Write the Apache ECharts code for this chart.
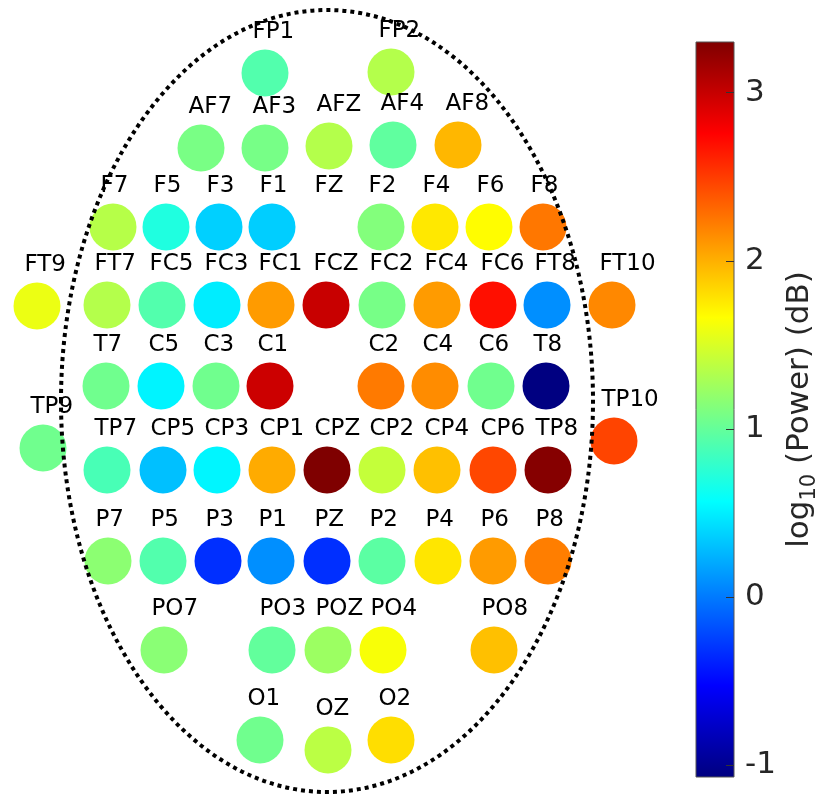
<!DOCTYPE html>
<html><head><meta charset="utf-8">
<script src="https://cdn.jsdelivr.net/npm/echarts@6/dist/echarts.min.js"></script>
<style>html,body{margin:0;padding:0;background:#fff}#c{width:825px;height:794px}</style>
</head><body><div id="c"></div>
<script>
// Electrode names, head-plane positions (x right, y up) and log10 power values
const names = ['FP1','FP2','AF7','AF3','AFZ','AF4','AF8','F7','F5','F3','F1','FZ','F2','F4','F6','F8',
  'FT9','FT7','FC5','FC3','FC1','FCZ','FC2','FC4','FC6','FT8','FT10',
  'T7','C5','C3','C1','C2','C4','C6','T8','TP9','TP10',
  'TP7','CP5','CP3','CP1','CPZ','CP2','CP4','CP6','TP8',
  'P7','P5','P3','P1','PZ','P2','P4','P6','P8',
  'PO7','PO3','POZ','PO4','PO8','O1','OZ','O2'];
const posX = [-62,64,-126,-62,2,66,131,-214,-161,-108,-55,0,54,108,162,216,
  -290,-220,-165,-110,-56,-1,55,110,166,220,285,
  -221,-166,-111,-57,54,108,164,219,-284,287,
  -220,-164,-110,-55,0,55,110,166,221,
  -219,-164,-109,-56,0,55,111,166,221,
  -163,-55,1,56,167,-67,1,64];
const posY = [328,329,253,253,255,256,256,174,174,174,174,174,174,174,174,174,
  95,96,96,96,96,96,96,96,96,96,96,
  15,15,15,15,15,15,15,15,-47,-40,
  -69,-69,-69,-69,-69,-69,-69,-69,-69,
  -160,-160,-160,-160,-160,-160,-160,-160,-160,
  -249,-249,-249,-249,-249,-339,-349,-339];
const power = [0.92,1.34,1.09,1.08,1.34,0.98,1.97,1.35,0.70,0.37,0.36,null,1.13,1.76,1.67,2.24,
  1.58,1.34,0.92,0.49,2.09,2.99,1.08,2.09,2.69,0.09,2.17,
  1.05,0.52,1.05,2.97,2.23,2.15,1.05,-1.06,1.05,2.46,
  0.88,0.30,0.53,2.02,3.30,1.41,1.93,2.45,3.27,
  1.17,0.92,-0.32,0.09,-0.32,0.96,1.77,2.09,2.21,
  1.16,0.99,1.24,1.63,1.93,1.05,1.37,1.80];
// Colour scale
const cbMin = -1.07, cbMax = 3.30;
const cbTicks = [-1, 0, 1, 2, 3];
const jet = ['#00007F','#0000FF','#007FFF','#00FFFF','#7FFF7F','#FFFF00','#FF7F00','#FF0000','#7F0000'];
// Head outline (centre and radii in the same units as the positions)
const headShape = [[0, 0, 266, 391]];

const dots = [], labels = [];
names.forEach(function(n, i){
  labels.push([posX[i], posY[i], n]);
  if (power[i] !== null) dots.push([posX[i], posY[i], power[i], n]);
});
const stops = jet.map(function(c, i){ return {offset: i/(jet.length-1), color: c}; });

const chart = echarts.init(document.getElementById('c'), null, {renderer:'canvas'});
chart.setOption({
  animation: false,
  backgroundColor: '#fff',
  textStyle: {fontFamily: 'DejaVu Sans'},
  grid: [
    {left: 0, top: 0, width: 825, height: 794},
    {left: 696, top: 42, width: 38, height: 735}
  ],
  xAxis: [
    {gridIndex: 0, type: 'value', min: -327, max: 498, show: false},
    {gridIndex: 1, type: 'value', min: 0, max: 1, show: false}
  ],
  yAxis: [
    {gridIndex: 0, type: 'value', min: -393, max: 401, show: false},
    {gridIndex: 1, type: 'value', min: cbMin, max: cbMax, position: 'right',
     splitLine: {show: false}, axisLine: {show: false},
     axisTick: {show: false},
     axisLabel: {show: true, customValues: cbTicks, fontSize: 31, color: '#262626', margin: 11, fontFamily: 'DejaVu Sans'},
     name: '{a|log}{s|10}{a| (Power) (dB)}',
     nameLocation: 'middle', nameRotate: 90, nameGap: 50,
     nameTextStyle: {
       color: '#262626', fontFamily: 'DejaVu Sans',
       rich: {
         a: {fontSize: 31, color: '#262626', verticalAlign: 'top', lineHeight: 32, fontFamily: 'DejaVu Sans'},
         s: {fontSize: 21, color: '#262626', verticalAlign: 'top', lineHeight: 21, padding: [15,0,0,0], fontFamily: 'DejaVu Sans'}
       }
     }
    }
  ],
  visualMap: {
    type: 'continuous', show: false, min: cbMin, max: cbMax, dimension: 2, seriesIndex: 0,
    inRange: {color: jet}
  },
  series: [
    {
      type: 'scatter', xAxisIndex: 0, yAxisIndex: 0, symbol: 'circle', symbolSize: 47,
      itemStyle: {opacity: 1}, data: dots, z: 2
    },
    {
      type: 'scatter', xAxisIndex: 0, yAxisIndex: 0, symbol: 'circle', symbolSize: 47,
      itemStyle: {color: 'rgba(0,0,0,0)', opacity: 1}, silent: true, z: 3,
      label: {
        show: true, position: [11, -17.5], align: 'left', verticalAlign: 'middle',
        fontSize: 23, color: '#000', opacity: 1, fontFamily: 'DejaVu Sans',
        formatter: function(p){ return p.value[2]; }
      },
      data: labels
    },
    {
      type: 'custom', xAxisIndex: 0, yAxisIndex: 0, z: 10, silent: true,
      renderItem: function(params, api){
        const c = api.coord([api.value(0), api.value(1)]);
        const s = api.size([api.value(2), api.value(3)]);
        return {type: 'ellipse', shape: {cx: c[0], cy: c[1], rx: s[0], ry: s[1]},
          style: {fill: null, stroke: '#000', lineWidth: 4, lineDash: [4, 4]}};
      },
      data: headShape
    },
    {
      type: 'custom', xAxisIndex: 1, yAxisIndex: 1, z: 1, silent: true,
      renderItem: function(params, api){
        const p0 = api.coord([0, api.value(1)]);
        const p1 = api.coord([1, api.value(2)]);
        const children = [{type: 'rect', shape: {x: p0[0], y: p1[1], width: p1[0]-p0[0], height: p0[1]-p1[1]},
          style: {fill: {type: 'linear', x: 0, y: 1, x2: 0, y2: 0, colorStops: stops}, stroke: '#555', lineWidth: 1}}];
        cbTicks.forEach(function(t){
          const q = api.coord([1, t]);
          const yy = Math.round(q[1]) + 0.5;
          children.push({type: 'line', shape: {x1: q[0], y1: yy, x2: q[0] - 8, y2: yy},
            style: {stroke: '#333', lineWidth: 1}});
        });
        return {type: 'group', children: children};
      },
      data: [[0, cbMin, cbMax]]
    }
  ]
});
</script></body></html>
